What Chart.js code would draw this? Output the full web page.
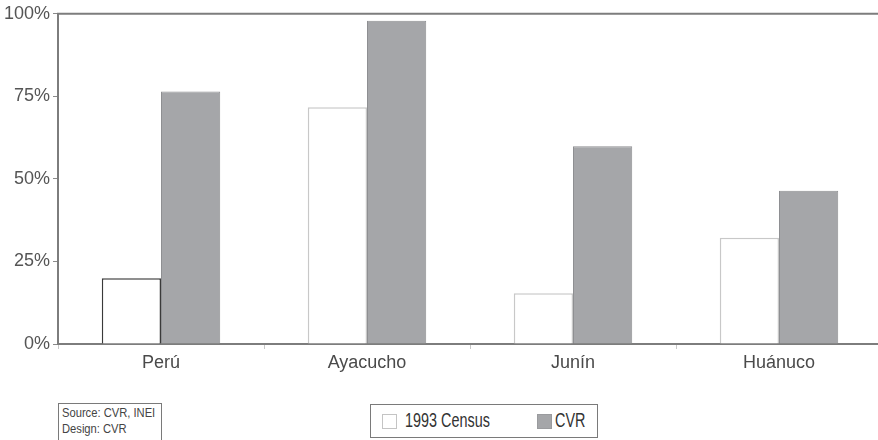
<!DOCTYPE html>
<html>
<head>
<meta charset="utf-8">
<script src="https://cdn.jsdelivr.net/npm/chart.js@4/dist/chart.umd.min.js"></script>
<style>
  html, body { margin: 0; padding: 0; background: #fff; overflow: hidden; }
  #wrap { position: relative; width: 878px; height: 440px; overflow: hidden; }
  #plot { position: absolute; left: 0; top: 0; width: 882px; height: 392px; }
  .box { position: absolute; border: 1px solid #7a7a7a; background: #fff; color: #333;
         font-family: "Liberation Sans", Arial, sans-serif; }
  #source { left: 58px; top: 403px; width: 104px; height: 40px; font-size: 13px; line-height: 16px; padding: 1px 0 0 3px; box-sizing: border-box; color: #444; }
  #source span { display: inline-block; transform: scaleX(0.86); transform-origin: left center; white-space: nowrap; }
  #legend { left: 370px; top: 404px; width: 228px; height: 34px; box-sizing: border-box; font-size: 20px; }
  .item { position: absolute; top: 8px; height: 17px; }
  .sw { position: absolute; top: 1px; width: 15px; height: 15px; box-sizing: border-box; }
  .lbl { position: absolute; top: -4px; white-space: nowrap; transform: scaleX(0.72); transform-origin: left center; }
</style>
</head>
<body>
<div id="wrap">
  <div id="plot"><canvas id="chart"></canvas></div>
  <div id="source" class="box"><span>Source: CVR, INEI</span><br><span>Design: CVR</span></div>
  <div id="legend" class="box">
    <div class="item" style="left:11px">
      <span class="sw" style="left:0;border:1px solid #c4c4c4;background:#fff"></span>
      <span class="lbl" style="left:23px">1993 Census</span>
    </div>
    <div class="item" style="left:166px">
      <span class="sw" style="left:0;background:#a5a6a9;border:1px solid #9a9b9e"></span>
      <span class="lbl" style="left:18px">CVR</span>
    </div>
  </div>
</div>
<script>
// values (percent)
const regions = ['Perú', 'Ayacucho', 'Junín', 'Huánuco'];
const census1993 = [19.9, 71.7, 15.4, 32.2];
const cvr = [76.5, 97.9, 59.9, 46.4];
const yTicks = [0, 25, 50, 75, 100];

// top frame line of the plot
const topLine = {
    id: 'topLine',
    afterDraw(chart) {
        const { ctx, chartArea } = chart;
        ctx.save();
        ctx.strokeStyle = '#7d7d7d';
        ctx.lineWidth = 2;
        ctx.beginPath();
        ctx.moveTo(chartArea.left - 1, chartArea.top);
        ctx.lineTo(chart.width, chartArea.top);
        ctx.stroke();
        ctx.restore();
    }
};

new Chart(document.getElementById('chart'), {
    type: 'bar',
    data: {
        labels: regions,
        datasets: [{
            label: '1993 Census',
            data: census1993,
            backgroundColor: '#ffffff',
            borderColor: ['#3a3a3a', '#c8c8c8', '#c8c8c8', '#c8c8c8'],
            borderWidth: 1.5,
            categoryPercentage: 0.575,
            barPercentage: 1.0
        }, {
            label: 'CVR',
            data: cvr,
            backgroundColor: '#a5a6a9',
            borderColor: '#8e8f92',
            borderWidth: 1,
            categoryPercentage: 0.575,
            barPercentage: 1.0
        }]
    },
    plugins: [topLine],
    options: {
        responsive: true,
        maintainAspectRatio: false,
        animation: false,
        layout: { padding: { top: 12, right: 0, left: 0, bottom: 0 } },
        plugins: {
            legend: { display: false },
            tooltip: { enabled: false }
        },
        scales: {
            x: {
                offset: true,
                afterFit(s) { s.height = 48; },
                border: { color: '#7d7d7d', width: 2 },
                grid: { offset: true, drawOnChartArea: false, tickLength: 5, color: '#c8c8c8' },
                ticks: {
                    color: '#4a4a4a',
                    padding: 3,
                    font: { family: '"Liberation Sans", Arial, sans-serif', size: 18 }
                }
            },
            y: {
                min: 0,
                max: 100,
                afterFit(s) { s.width = 58; },
                afterBuildTicks(s) { s.ticks = yTicks.map(v => ({ value: v })); },
                border: { color: '#7d7d7d', width: 2 },
                grid: { drawOnChartArea: false, tickLength: 5, color: '#8a8a8a' },
                ticks: {
                    color: '#555555',
                    padding: 3,
                    font: { family: '"Liberation Sans", Arial, sans-serif', size: 18 },
                    callback: v => v + '%'
                }
            }
        }
    }
});
</script>
</body>
</html>
